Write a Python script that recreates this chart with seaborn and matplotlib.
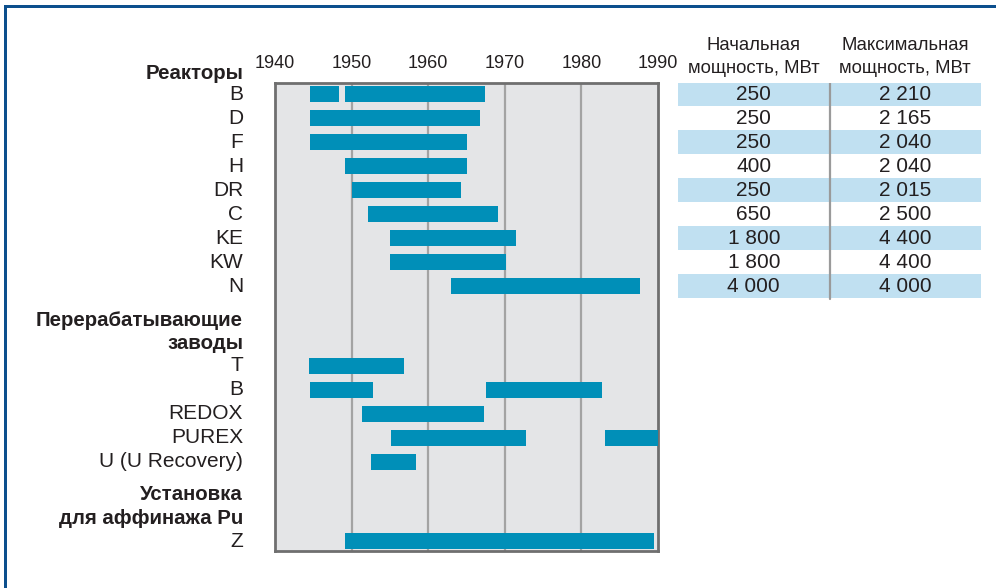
import numpy as np
import matplotlib.pyplot as plt
import matplotlib.patches as mpatches
import matplotlib.transforms as mtransforms
import seaborn as sns

# --- data ---
years = [1940, 1950, 1960, 1970, 1980, 1990]

reactor_names = ["B", "D", "F", "H", "DR", "C", "KE", "KW", "N"]
reactor_spans = [
    [(1944.6, 1948.3), (1949.2, 1967.4)],
    [(1944.6, 1966.7)],
    [(1944.6, 1965.1)],
    [(1949.1, 1965.1)],
    [(1950.1, 1964.3)],
    [(1952.1, 1969.1)],
    [(1955.0, 1971.4)],
    [(1955.0, 1970.1)],
    [(1963.0, 1987.6)],
]

plant_names = ["T", "B", "REDOX", "PUREX", "U (U Recovery)"]
plant_spans = [
    [(1944.4, 1956.9)],
    [(1944.6, 1952.8), (1967.6, 1982.7)],
    [(1951.3, 1967.3)],
    [(1955.2, 1972.8), (1983.1, 1990.0)],
    [(1952.5, 1958.4)],
]

pu_names = ["Z"]
pu_spans = [[(1949.1, 1989.5)]]

start_power = ["250", "250", "250", "400", "250", "650", "1 800", "1 800", "4 000"]
max_power = ["2 210", "2 165", "2 040", "2 040", "2 015", "2 500", "4 400", "4 400", "4 000"]

# --- style ---
sns.set_theme(style="white")
plt.rcParams["font.family"] = ["Liberation Sans", "DejaVu Sans"]

bar_color = "#008fb8"
text_color = "#231f20"
band_color = "#c0e0f1"

W, H = 996, 588
fig = plt.figure(figsize=(W / 100, H / 100), dpi=100)


def px_rect(x0, y0, x1, y1):
    # pixel box (top-left origin) -> figure fraction rect
    return [x0 / W, 1 - y1 / H, (x1 - x0) / W, (y1 - y0) / H]


# row layout (one unit = one row of the chart)
reactor_y = np.arange(len(reactor_names), dtype=float)
plant_y = 11.33 + np.arange(len(plant_names))
pu_y = np.array([18.625])
ylim = (19.04, -0.46)

ax = fig.add_axes(px_rect(275, 83, 658, 551))
ax.set_facecolor("#e4e5e7")

for ys, spans in [(reactor_y, reactor_spans), (plant_y, plant_spans), (pu_y, pu_spans)]:
    for y, segs in zip(ys, spans):
        for start, end in segs:
            ax.barh(y, end - start, left=start, height=0.67, color=bar_color,
                    linewidth=0, zorder=3)

ax.set_xlim(years[0], years[-1])
ax.set_ylim(*ylim)
ax.set_xticks(years)
ax.set_xticklabels([str(y) for y in years], fontsize=13, color=text_color)
ax.xaxis.tick_top()
ax.tick_params(axis="x", length=0, pad=8)
ax.set_yticks([])
for yr in years[1:-1]:
    ax.axvline(yr, color="#a3a3a3", lw=1.6, zorder=1)
for sp in ax.spines.values():
    sp.set_color("#6f6f6f")
    sp.set_linewidth(2)
    sp.set_visible(True)

# row labels to the left of the axes
lab_tr = mtransforms.blended_transform_factory(fig.transFigure, ax.transData)
label_x = 243 / W
for ys, names in [(reactor_y, reactor_names), (plant_y, plant_names), (pu_y, pu_names)]:
    for y, name in zip(ys, names):
        ax.text(label_x, y, name, transform=lab_tr, ha="right", va="center",
                fontsize=15, color=text_color, clip_on=False)

headings = [(-0.875, "Реакторы"), (9.42, "Перерабатывающие"), (10.375, "заводы"),
            (16.67, "Установка"), (17.67, "для аффинажа Pu")]
for y, txt in headings:
    ax.text(label_x, y, txt, transform=lab_tr, ha="right", va="center",
            fontsize=14.7, fontweight="bold", color=text_color, clip_on=False)

# power table on the right
tab = fig.add_axes(px_rect(678, 83, 981, 551))
tab.set_xlim(0, 1)
tab.set_ylim(*ylim)
tab.axis("off")
for i, (p0, p1) in enumerate(zip(start_power, max_power)):
    if i % 2 == 0:
        tab.add_patch(mpatches.Rectangle((0, i - 0.5), 1, 1, color=band_color,
                                         lw=0, zorder=1))
    tab.text(0.25, i + 0.03, p0, ha="center", va="center", fontsize=15,
             color=text_color, zorder=3)
    tab.text(0.75, i + 0.03, p1, ha="center", va="center", fontsize=15,
             color=text_color, zorder=3)
tab.plot([0.5, 0.5], [-0.46, len(start_power) - 0.45], color="#9a9a9a", lw=1.6,
         zorder=2)

for x, l1 in [(0.25, "Начальная"), (0.75, "Максимальная")]:
    tab.text(x, -2.04, l1, ha="center", va="center", fontsize=13.3,
             color=text_color, clip_on=False)
    tab.text(x, -1.08, "мощность, МВт", ha="center", va="center", fontsize=13.3,
             color=text_color, clip_on=False)

# blue frame lines along top and left edges
frame_color = "#0c4f8d"
fig.add_artist(mpatches.Rectangle((4 / W, 0), 3 / W, 1 - 5 / H,
                                  transform=fig.transFigure, color=frame_color, lw=0))
fig.add_artist(mpatches.Rectangle((4 / W, 1 - 8 / H), 1 - 4 / W, 3 / H,
                                  transform=fig.transFigure, color=frame_color, lw=0))

fig.savefig("out.png", dpi=100)
